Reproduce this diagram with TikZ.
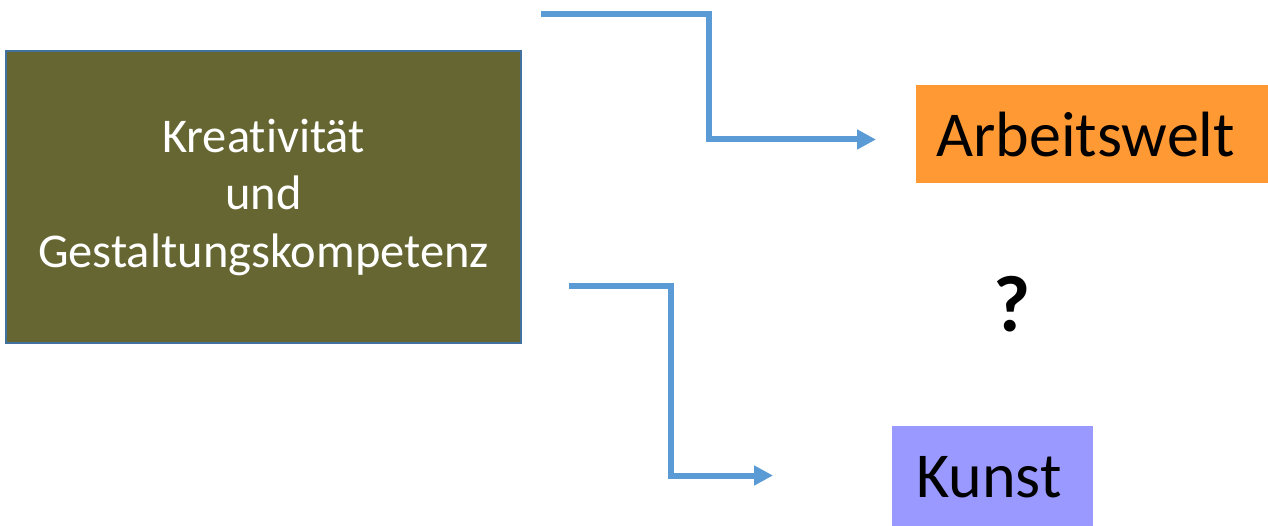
\documentclass[tikz,border=0pt]{standalone}
\usepackage{fontspec}
\setmainfont{Carlito}[Ligatures=NoCommon]
\usetikzlibrary{arrows.meta}
\definecolor{olivebox}{RGB}{102,102,51}
\definecolor{boxborder}{RGB}{65,113,156}
\definecolor{connblue}{RGB}{91,155,213}
\definecolor{orangebox}{RGB}{255,153,51}
\definecolor{lavbox}{RGB}{153,153,255}
\tikzset{
  conn/.style={draw=connblue, line width=6pt, -{Triangle[length=19pt,width=19pt]}},
  mainbox/.style={draw=boxborder, line width=2pt, fill=olivebox, text=white, align=center,
    minimum width=515pt, minimum height=292pt, inner sep=0pt,
    font=\fontsize{48.5}{57.5}\selectfont},
  target/.style={anchor=north west, inner ysep=0pt, align=left, text=black,
    font=\fontsize{64}{70}\selectfont}
}
\begin{document}
\begin{tikzpicture}[x=1pt,y=-1pt]
\useasboundingbox (0,0) rectangle (1268,526);
\node[mainbox] (k) at (263.5,197) {Kreativität\\und\\Gestaltungskompetenz};
\node[target, fill=orangebox, inner xsep=20pt, text width=312pt, text height=71pt, text depth=27pt] (a) at (916,85) {Arbeitswelt};
\node[target, fill=lavbox, inner xsep=24pt, text width=153pt, text height=71pt, text depth=29pt] (ku) at (892,426) {Kunst};
\node[font=\fontsize{80}{90}\selectfont\bfseries, inner sep=0pt] (q) at (1012,304) {?};
\coordinate (s1) at (541,13.7);
\coordinate (e1) at (876,139.5);
\coordinate (s2) at (569,286.3);
\coordinate (e2) at (773,475.5);
\draw[conn] (s1) -- ++(168,0) |- (e1);
\draw[conn] (s2) -- ++(102,0) |- (e2);
\end{tikzpicture}
\end{document}
